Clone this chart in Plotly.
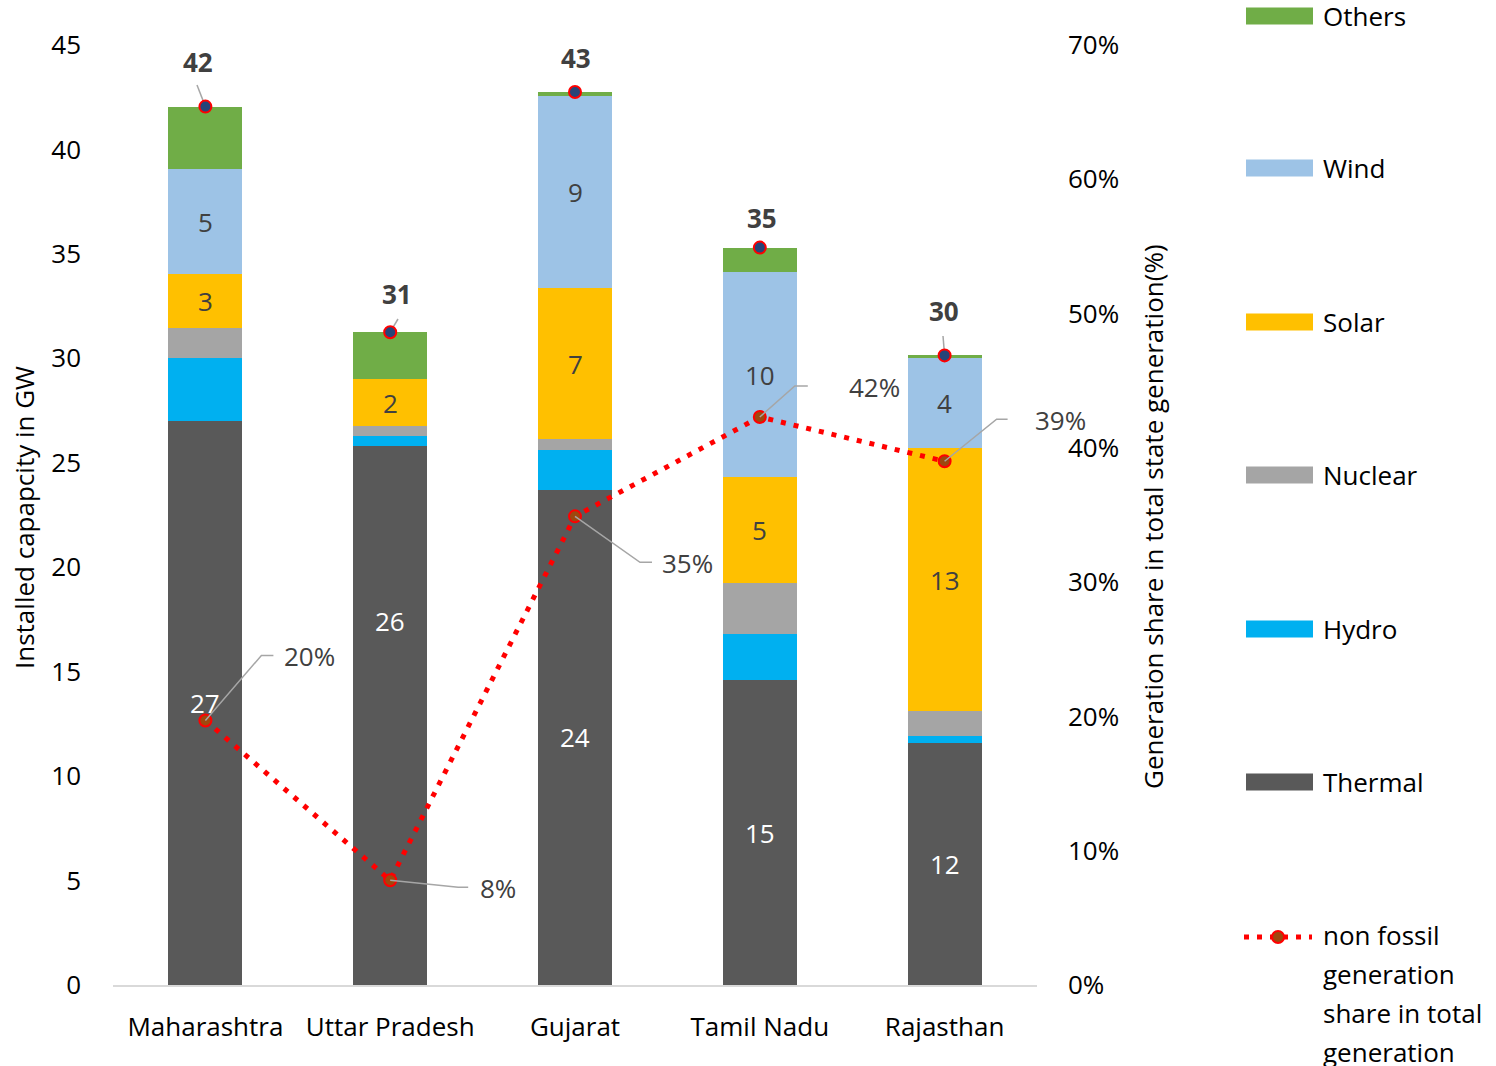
import plotly.graph_objects as go

# ---- data -------------------------------------------------------------
states = ["Maharashtra", "Uttar Pradesh", "Gujarat", "Tamil Nadu", "Rajasthan"]

thermal = [27.0, 25.8, 23.7, 14.6, 11.6]
hydro = [3.0, 0.5, 1.9, 2.2, 0.3]
nuclear = [1.45, 0.45, 0.55, 2.45, 1.2]
solar = [2.6, 2.25, 7.2, 5.05, 12.6]
wind = [5.0, 0.0, 9.2, 9.85, 4.3]
others = [3.0, 2.25, 0.2, 1.15, 0.14]

# non fossil generation share in total state generation (%)
nonfossil_share = [19.7, 7.8, 34.9, 42.3, 39.0]

series = [
    ("Thermal", thermal, "#595959", True),
    ("Hydro", hydro, "#00B0F0", False),
    ("Nuclear", nuclear, "#A5A5A5", False),
    ("Solar", solar, "#FFC000", True),
    ("Wind", wind, "#9DC3E6", True),
    ("Others", others, "#70AD47", False),
]

totals = [sum(vals) for vals in zip(thermal, hydro, nuclear, solar, wind, others)]

# ---- layout geometry (pixels) -----------------------------------------
W, H = 1496, 1066
L, R, T, B = 113, 1037, 45, 985
Y1MAX, Y2MAX = 45, 70
FONT = "Open Sans"
FS = 26


def px_x(i):
    return L + (i + 0.5) * (R - L) / len(states)


def px_y1(v):
    return B - v / Y1MAX * (B - T)


def px_y2(v):
    return B - v / Y2MAX * (B - T)


def paper_x(px):
    return (px - L) / (R - L)


def paper_y(py):
    return (B - py) / (B - T)


fig = go.Figure()

shapes = []
annotations = []
GRAY = "#A6A6A6"

# segment labels are placed at the segment middle; a few are nudged off the line
label_nudge = {("Thermal", 1): -95}

base = [0.0] * len(states)
for name, vals, color, labelled in series:
    fig.add_trace(go.Bar(
        x=states, y=vals, name=name, marker=dict(color=color, line=dict(width=0)),
        width=0.4, showlegend=False, hoverinfo="x+y",
    ))
    for i, v in enumerate(vals):
        if labelled and v > 0:
            cy = px_y1(base[i] + v / 2) + label_nudge.get((name, i), 0)
            annotations.append(dict(
                x=paper_x(px_x(i)), y=paper_y(cy), xref="paper", yref="paper",
                text=f"{v:.0f}", showarrow=False, xanchor="center", yanchor="middle",
                font=dict(family=FONT, size=FS,
                          color="#FFFFFF" if name == "Thermal" else "#404040"),
            ))
        base[i] += v

# total markers on top of bars
fig.add_trace(go.Scatter(
    x=states, y=totals, mode="markers", showlegend=False,
    marker=dict(size=12, color="#264478", line=dict(color="#FF0000", width=2)),
    hoverinfo="x+y",
))

# non fossil share line on the secondary axis
fig.add_trace(go.Scatter(
    x=states, y=nonfossil_share, yaxis="y2", mode="lines+markers", showlegend=False,
    line=dict(color="#FF0000", width=5, dash="5px,8px"),
    marker=dict(size=12, color="#9E480E", line=dict(color="#FF0000", width=2)),
    hoverinfo="x+y",
))

# total labels with short leader lines
total_offsets = [(-7, -45, (197, 85)), (7, -38, (398, 319)), (1, -34, None), (2, -30, None), (-1, -44, (943, 336))]
for i, (tot, (dx, dy, lead)) in enumerate(zip(totals, total_offsets)):
    mx, my = px_x(i), px_y1(tot)
    annotations.append(dict(
        x=paper_x(mx + dx), y=paper_y(my + dy), xref="paper", yref="paper",
        text=f"<b>{tot:.0f}</b>", showarrow=False, xanchor="center", yanchor="middle",
        font=dict(family=FONT, size=FS, color="#404040"),
    ))
    if lead:
        shapes.append(dict(type="line", xref="paper", yref="paper",
                           x0=paper_x(mx), y0=paper_y(my), x1=paper_x(lead[0]), y1=paper_y(lead[1]),
                           line=dict(color=GRAY, width=1.5), layer="below"))

# percentage labels with bent leader lines: (elbow dx, elbow dy, horizontal length, text gap)
pct_offsets = [(56, -65, 12, 9), (68, 7, 10, 10), (65, 46, 12, 8), (35, -31, 13, 39), (52, -42, 11, 25)]
for i, (s, (ex, ey, hl, gap)) in enumerate(zip(nonfossil_share, pct_offsets)):
    mx, my = px_x(i), px_y2(s)
    elx, ely = mx + ex, my + ey
    path = (f"M {paper_x(mx)} {paper_y(my)} L {paper_x(elx)} {paper_y(ely)} "
            f"L {paper_x(elx + hl)} {paper_y(ely)}")
    shapes.append(dict(type="path", xref="paper", yref="paper", path=path,
                       line=dict(color=GRAY, width=1.5), layer="above"))
    annotations.append(dict(
        x=paper_x(elx + hl + gap), y=paper_y(ely + 1), xref="paper", yref="paper",
        text=f"{s:.0f}%", showarrow=False, xanchor="left", yanchor="middle",
        font=dict(family=FONT, size=FS, color="#404040"),
    ))

# axis titles
annotations.append(dict(x=paper_x(24), y=paper_y(518), xref="paper", yref="paper",
                        xanchor="center", yanchor="middle",
                        text="Installed capapcity in GW", textangle=-90, showarrow=False,
                        font=dict(family=FONT, size=FS, color="#000000")))
annotations.append(dict(x=paper_x(1153), y=paper_y(517), xref="paper", yref="paper",
                        xanchor="center", yanchor="middle",
                        text="Generation share in total state generation(%)", textangle=-90,
                        showarrow=False, font=dict(family=FONT, size=FS, color="#000000")))

# legend drawn on the right
legend_rows = [("Others", "#70AD47", 16), ("Wind", "#9DC3E6", 168), ("Solar", "#FFC000", 322),
               ("Nuclear", "#A5A5A5", 475), ("Hydro", "#00B0F0", 629), ("Thermal", "#595959", 782)]
for label, color, cy in legend_rows:
    shapes.append(dict(type="rect", xref="paper", yref="paper",
                       x0=paper_x(1246), x1=paper_x(1313), y0=paper_y(cy + 8.5), y1=paper_y(cy - 8.5),
                       fillcolor=color, line=dict(width=0)))
    annotations.append(dict(x=paper_x(1321), y=paper_y(cy), xref="paper", yref="paper",
                            text=label, showarrow=False, xanchor="left", yanchor="middle",
                            font=dict(family=FONT, size=FS, color="#000000")))

shapes.append(dict(type="line", xref="paper", yref="paper",
                   x0=paper_x(1244), x1=paper_x(1312), y0=paper_y(937), y1=paper_y(937),
                   line=dict(color="#FF0000", width=5, dash="5px,8px")))
shapes.append(dict(type="circle", xref="paper", yref="paper",
                   x0=paper_x(1272), x1=paper_x(1284), y0=paper_y(943), y1=paper_y(931),
                   fillcolor="#9E480E", line=dict(color="#FF0000", width=2)))
for k, line_txt in enumerate(["non fossil", "generation", "share in total", "generation"]):
    annotations.append(dict(x=paper_x(1321), y=paper_y(935 + 39 * k), xref="paper", yref="paper",
                            text=line_txt, showarrow=False, xanchor="left", yanchor="middle",
                            font=dict(family=FONT, size=FS, color="#000000")))

fig.update_layout(
    width=W, height=H, barmode="stack", bargap=0.6,
    margin=dict(l=L, r=W - R, t=T, b=H - B, pad=0),
    plot_bgcolor="white", paper_bgcolor="white",
    font=dict(family=FONT, size=FS, color="#000000"),
    xaxis=dict(type="category", showgrid=False, showline=True, linecolor="#D9D9D9", linewidth=1.5,
               ticks="", tickfont=dict(family=FONT, size=FS, color="#000000"), ticklabelstandoff=18),
    yaxis=dict(range=[0, Y1MAX], dtick=5, showgrid=False, zeroline=False, showline=False, ticks="",
               tickfont=dict(family=FONT, size=FS, color="#000000"), ticklabelstandoff=31),
    yaxis2=dict(range=[0, Y2MAX], dtick=10, overlaying="y", side="right", showgrid=False,
                zeroline=False, showline=False, ticks="", ticksuffix="%",
                tickfont=dict(family=FONT, size=FS, color="#000000"), ticklabelstandoff=30),
    shapes=shapes, annotations=annotations, showlegend=False,
)

fig.write_html("out.html")
